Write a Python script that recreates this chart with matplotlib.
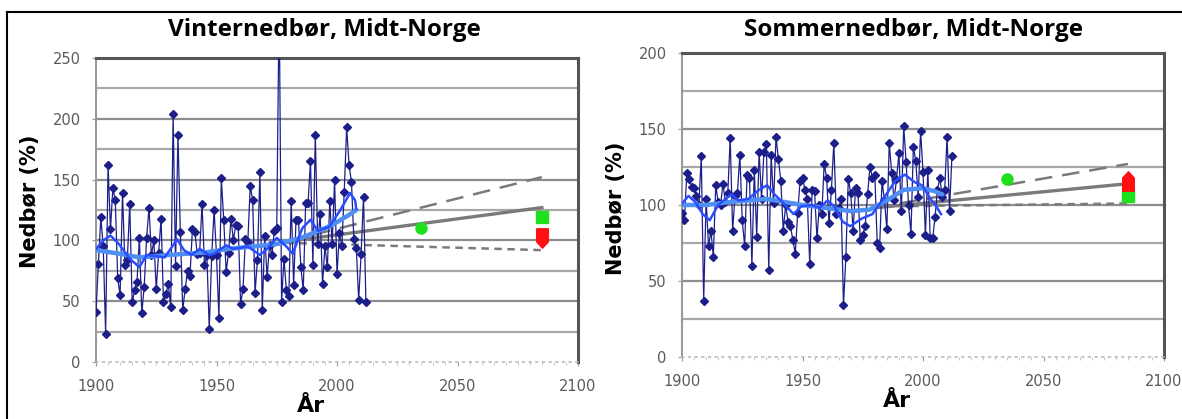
import matplotlib
matplotlib.use("Agg")
import matplotlib.pyplot as plt
from matplotlib.lines import Line2D
from matplotlib.path import Path

YEARS_START = 1900

WINTER_VALUES = [
    41, 81, 119, 95, 23, 162, 109, 143, 133, 69,
    55, 139, 80, 84, 130, 49, 59, 66, 102, 40,
    62, 102, 127, 88, 100, 60, 90, 118, 49, 56,
    64, 45, 204, 79, 187, 107, 43, 60, 75, 71,
    109, 107, 89, 90, 130, 80, 88, 27, 87, 125,
    88, 36, 151, 117, 74, 90, 118, 100, 113, 112,
    48, 60, 101, 99, 145, 133, 57, 84, 156, 43,
    104, 70, 96, 88, 108, 110, 300, 49, 85, 59,
    54, 132, 63, 117, 117, 78, 59, 131, 131, 165,
    80, 187, 97, 122, 64, 95, 78, 132, 97, 150,
    72, 106, 95, 140, 193, 162, 148, 101, 94, 51,
    89, 136, 49,
]

SUMMER_VALUES = [
    95, 90, 121, 117, 112, 111, 106, 100, 132, 37,
    104, 73, 83, 66, 113, 102, 100, 114, 102, 108,
    144, 83, 106, 108, 133, 90, 73, 120, 118, 60,
    123, 79, 135, 104, 135, 140, 57, 133, 101, 145,
    130, 116, 83, 100, 89, 86, 77, 68, 95, 116,
    118, 110, 104, 61, 110, 109, 78, 100, 94, 127,
    118, 88, 110, 141, 94, 98, 104, 34, 66, 117,
    108, 83, 111, 108, 77, 80, 86, 107, 125, 118,
    120, 75, 72, 116, 103, 84, 141, 121, 103, 117,
    134, 96, 152, 128, 100, 81, 138, 129, 105, 149,
    122, 80, 123, 78, 78, 92, 110, 118, 105, 110,
    145, 96, 132,
]

# filtered curves (year, value)
WINTER_FILTER10_X = [1900, 1903, 1906, 1909.5, 1914, 1918, 1921, 1925, 1928.5, 1932, 1933.6,
                     1936.5, 1939.6, 1943, 1947, 1949, 1954, 1957, 1963, 1968, 1971, 1975,
                     1979, 1981.6, 1985.6, 1989, 1992, 1996.7, 2001.4, 2005.4, 2007.5, 2008]
WINTER_FILTER10_Y = [93, 100, 104, 97, 85, 78, 88, 87, 86, 96, 101,
                     92, 88, 93, 88, 89, 96, 93, 95, 88, 93, 102,
                     95, 89, 110, 117, 108, 111, 125, 139, 133, 126]
WINTER_FILTER30_X = [1900, 1910, 1918, 1930, 1945, 1955, 1965, 1975, 1985, 1995, 2000, 2005, 2008]
WINTER_FILTER30_Y = [92, 89, 86, 88, 90, 93, 95, 97, 102, 110, 115, 121, 125]

SUMMER_FILTER10_X = [1900, 1902.7, 1905.5, 1908.6, 1911.5, 1915, 1920.4, 1923.5, 1927.5, 1932,
                     1935.3, 1938.4, 1941.6, 1946.3, 1949.4, 1954, 1957, 1960.4, 1963.2, 1966.7,
                     1969.8, 1974.5, 1979, 1983.9, 1988.6, 1992.5, 1996.5, 1999.6, 2002.7,
                     2005.9, 2007.5]
SUMMER_FILTER10_Y = [101, 106, 102, 94, 90, 100, 107, 103, 104, 110,
                     113, 107, 102, 94, 99, 100, 98, 103, 99, 89,
                     86, 91, 94, 105, 116, 120, 115, 113, 105,
                     98, 94]
SUMMER_FILTER30_X = [1900, 1910, 1920, 1935, 1950, 1960, 1970, 1978, 1985, 1992, 2000, 2005, 2008]
SUMMER_FILTER30_Y = [100, 100, 102, 104, 100, 98, 96, 97, 103, 110, 111, 109, 107]

# scenario lines: start year / end year and values
SCEN_YEARS = [1979, 2085]
WINTER_MEDIUM = [99, 127]
WINTER_HIGH = [99, 152]
WINTER_LOW = [98, 92]
SUMMER_MEDIUM = [98, 114]
SUMMER_HIGH = [98, 127]
SUMMER_LOW = [99, 101]

MARK_2035 = 2035
MARK_2085 = 2085
WINTER_GREEN_2035 = 110
WINTER_GREEN_2085 = 119
WINTER_RED_2085 = 102
SUMMER_GREEN_2035 = 117
SUMMER_GREEN_2085 = 106
SUMMER_RED_2085 = 116

NAVY = "#1c1f8a"
BLUE_THIN = "#2a4dff"
BLUE_THICK = "#4d8ff2"
GRAY = "#7a7a7a"
GREEN = "#1ee01e"
RED = "#ff1010"

RED_DOWN = Path([(-0.6, 1), (0.6, 1), (0.6, -0.35), (0, -1), (-0.6, -0.35), (-0.6, 1)])
RED_UP = Path([(-0.6, -1), (0.6, -1), (0.6, 0.35), (0, 1), (-0.6, 0.35), (-0.6, -1)])

W, H = 1182, 419


def draw_panel(ax, values, f10x, f10y, f30x, f30y, med, high, low,
               g2035, g2085, r2085, red_marker, ymax, ylabel_y):
    years = list(range(YEARS_START, YEARS_START + len(values)))

    for y in range(25, ymax, 25):
        ax.axhline(y, color="#8c8c8c" if y % 50 == 0 else "#a8a8a8", lw=1.6, zorder=1)

    ax.plot(years, values, color=NAVY, lw=0.9, marker="D", ms=3.8,
            mfc=NAVY, mec=NAVY, zorder=3)
    ax.plot(f30x, f30y, color=BLUE_THICK, lw=3.2, zorder=4, solid_capstyle="round")
    ax.plot(f10x, f10y, color=BLUE_THIN, lw=1.8, zorder=5)

    ax.plot(SCEN_YEARS, high, color=GRAY, lw=1.8, dashes=(7, 4), zorder=2)
    ax.plot(SCEN_YEARS, med, color=GRAY, lw=2.4, zorder=2)
    ax.plot(SCEN_YEARS, low, color=GRAY, lw=1.8, dashes=(3, 2.2), zorder=2)

    ax.plot([MARK_2035], [g2035], "o", color=GREEN, ms=8, zorder=6)
    ax.plot([MARK_2085], [g2085], "s", color=GREEN, ms=8, zorder=6)
    ax.plot([MARK_2085], [r2085], marker=red_marker, color=RED, ms=14, lw=0, zorder=6)

    ax.set_xlim(1900, 2100)
    ax.set_ylim(0, ymax)
    ax.set_xticks(range(1900, 2101, 50))
    ax.set_xticks(range(1900, 2101, 5), minor=True)
    ax.set_yticks(range(0, ymax + 1, 50))
    ax.tick_params(axis="both", which="major", labelsize=10.5, labelcolor="#5a5a5a",
                   color="#999999", length=3)
    ax.tick_params(axis="x", which="minor", color="#bbbbbb", length=2)
    ax.tick_params(axis="x", pad=9)
    ax.tick_params(axis="y", pad=8)

    for side in ("top", "right"):
        ax.spines[side].set_color("#555555")
        ax.spines[side].set_linewidth(2.2)
    ax.spines["left"].set_color("#999999")
    ax.spines["left"].set_linewidth(1.5)
    ax.spines["bottom"].set_color("#bbbbbb")
    ax.spines["bottom"].set_linestyle((0, (1, 3)))
    ax.spines["bottom"].set_linewidth(1.2)

    ax.set_ylabel("Nedbør (%)", fontsize=15, fontweight="bold", family="DejaVu Sans",
                  va="center")
    ax.yaxis.set_label_coords(-0.137, ylabel_y)
    ax.set_xlabel("År", fontsize=16, fontweight="bold", family="DejaVu Sans", va="center")
    ax.xaxis.set_label_coords(0.445, -0.145)


def main():
    fig = plt.figure(figsize=(W / 100, H / 100), dpi=100)

    ax1 = fig.add_axes([96 / W, 1 - 362 / H, 482 / W, 304 / H])
    ax2 = fig.add_axes([682 / W, 1 - 357 / H, 482 / W, 304 / H])

    draw_panel(ax1, WINTER_VALUES,
               WINTER_FILTER10_X, WINTER_FILTER10_Y, WINTER_FILTER30_X, WINTER_FILTER30_Y,
               WINTER_MEDIUM, WINTER_HIGH, WINTER_LOW,
               WINTER_GREEN_2035, WINTER_GREEN_2085, WINTER_RED_2085, RED_DOWN, 250, 0.53)
    draw_panel(ax2, SUMMER_VALUES,
               SUMMER_FILTER10_X, SUMMER_FILTER10_Y, SUMMER_FILTER30_X, SUMMER_FILTER30_Y,
               SUMMER_MEDIUM, SUMMER_HIGH, SUMMER_LOW,
               SUMMER_GREEN_2035, SUMMER_GREEN_2085, SUMMER_RED_2085, RED_UP, 200, 0.49)

    fig.text(324 / W, 1 - 30 / H, "Vinternedbør, Midt-Norge", ha="center", va="center",
             fontsize=17.5, fontweight="bold", family="Open Sans")
    fig.text(913 / W, 1 - 30 / H, "Sommernedbør, Midt-Norge", ha="center", va="center",
             fontsize=17.5, fontweight="bold", family="Open Sans")

    # outer frame (top and left edge of the original screenshot box)
    fig.add_artist(Line2D([7 / W, 1.0], [1 - 12 / H, 1 - 12 / H], color="black", lw=1.5))
    fig.add_artist(Line2D([7 / W, 7 / W], [0, 1 - 12 / H], color="black", lw=1.5))

    fig.savefig("out.png", dpi=100)
    plt.close(fig)


if __name__ == "__main__":
    main()
